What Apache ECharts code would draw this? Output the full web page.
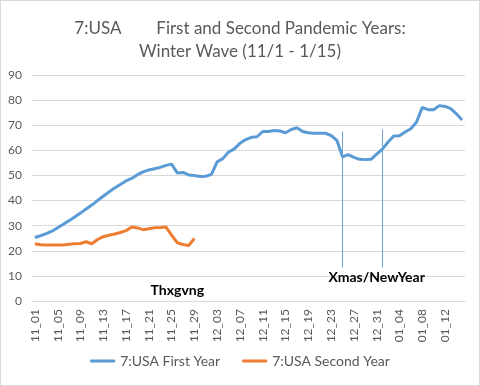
<!DOCTYPE html>
<html><head><meta charset="utf-8">
<script src="https://cdn.jsdelivr.net/npm/echarts@6/dist/echarts.min.js"></script>
<style>html,body{margin:0;padding:0;background:#fff}#c{width:480px;height:386px;box-sizing:border-box;border:1px solid #d9d9d9}</style>
</head><body><div id="c"></div>
<script>
// categories: 11_01 .. 01_15
const categories = [];
[[11,30],[12,31],[1,15]].forEach(([m,n])=>{for(let d=1;d<=n;d++){categories.push(String(m).padStart(2,'0')+'_'+String(d).padStart(2,'0'));}});
const firstYear = [25.3,26,26.8,27.8,29.2,30.6,32,33.5,35,36.6,38.2,40,41.7,43.4,45,46.4,47.8,48.8,50.3,51.4,
  52.2,52.7,53.2,54,54.5,51,51.2,50.2,50,49.6,49.7,50.4,55.4,56.7,59.3,60.6,62.8,64.3,65.2,65.4,
  67.5,67.5,67.9,67.7,67,68.3,69,67.5,67,66.8,66.8,66.8,65.9,64,57.4,58.3,57.2,56.4,56.3,56.4,
  58.5,60.5,63.3,65.7,65.8,67.3,68.6,71.3,77.1,76.2,76.2,77.8,77.5,76.6,74.5,72.1];
const secondYear = [22.8,22.4,22.3,22.3,22.3,22.3,22.6,22.8,22.9,23.6,22.8,24.5,25.6,26.2,26.7,27.3,28,29.5,29.1,28.4,
  28.8,29.2,29.3,29.5,26.2,23.2,22.5,22.1,24.9];
const seriesNames = ['7:USA First Year','7:USA Second Year'];
const titleLines = ['7:USA        First and Second Pandemic Years:','Winter Wave (11/1 - 1/15)'];
const markers = [
  {at:'12_25', from:67.5, to:13.4},
  {at:'01_01', from:68.3, to:13.4}
];
const notes = [
  {text:'Thxgvng', at:'11_26', value:4.3},
  {text:'Xmas/NewYear', at:'12_31', value:9.5}
];

const font = 'Lato, "Open Sans", sans-serif';
const chart = echarts.init(document.getElementById('c'));
chart.setOption({
  animation:false,
  title:{text:titleLines.join('\n'),left:'center',top:11,textStyle:{fontFamily:font,fontSize:17,fontWeight:'normal',color:'#595959',lineHeight:23}},
  grid:{left:31,right:14,top:74,bottom:84},
  legend:{bottom:12,left:'center',itemWidth:25,itemHeight:3,icon:'roundRect',itemGap:22,
    textStyle:{fontFamily:font,fontSize:14,color:'#595959'},data:seriesNames},
  xAxis:{type:'category',data:categories,boundaryGap:true,
    axisLine:{lineStyle:{color:'#d9d9d9'}},axisTick:{show:false},
    axisLabel:{interval:3,rotate:90,fontFamily:font,fontSize:12,color:'#595959',margin:8}},
  yAxis:{type:'value',min:0,max:90,interval:10,
    axisLine:{show:false},axisTick:{show:false},
    axisLabel:{fontFamily:font,fontSize:12,color:'#595959',margin:10},
    splitLine:{lineStyle:{color:'#d9d9d9'}}},
  series:[
    {name:seriesNames[0],type:'line',data:firstYear,showSymbol:false,symbol:'none',
      lineStyle:{width:3,color:'#5b9bd5'},itemStyle:{color:'#5b9bd5'},
      markLine:{silent:true,symbol:'none',label:{show:false},lineStyle:{color:'#6fa3d8',width:1,type:'solid'},
        data:markers.map(m=>[{coord:[m.at,m.from]},{coord:[m.at,m.to]}])},
      markPoint:{silent:true,symbol:'circle',symbolSize:0,
        label:{show:true,position:'inside',fontFamily:font,fontSize:14,fontWeight:'bold',color:'#000'},
        data:notes.map(n=>({coord:[n.at,n.value],value:n.text,label:{formatter:n.text}}))}
    },
    {name:seriesNames[1],type:'line',data:secondYear,showSymbol:false,symbol:'none',
      lineStyle:{width:3,color:'#ed7d31'},itemStyle:{color:'#ed7d31'}}
  ]
});
</script></body></html>
